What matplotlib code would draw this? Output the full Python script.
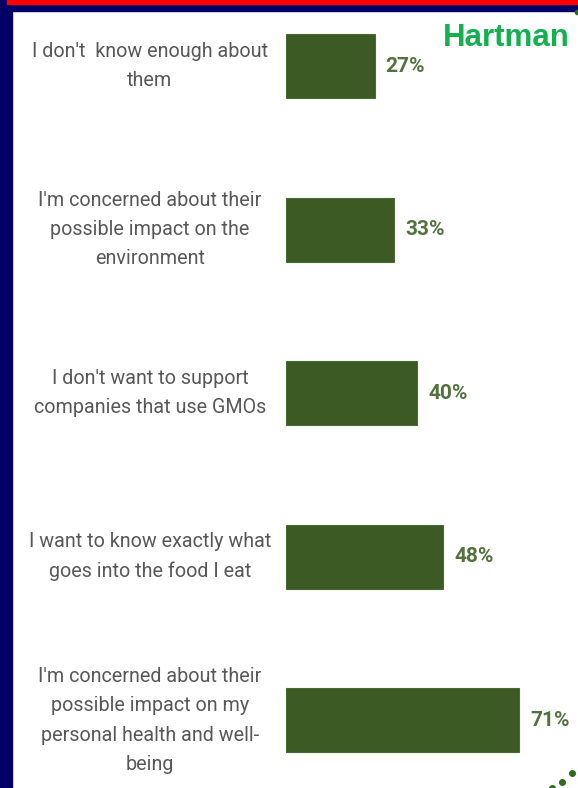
import matplotlib.pyplot as plt
from matplotlib.patches import Rectangle

# Reasons for avoiding GMOs, share of respondents
reasons = [
    "I don't  know enough about\nthem",
    "I'm concerned about their\npossible impact on the\nenvironment",
    "I don't want to support\ncompanies that use GMOs",
    "I want to know exactly what\ngoes into the food I eat",
    "I'm concerned about their\npossible impact on my\npersonal health and well-\nbeing",
]
shares = [27, 33, 40, 48, 71]

W, H = 578, 788
fig = plt.figure(figsize=(W / 100, H / 100), dpi=100)
fig.patch.set_facecolor("white")

# frame: navy left edge, red + navy bands on top
fig.patches.append(Rectangle((0, 0), 12 / W, 1, transform=fig.transFigure, color="#000066", zorder=0))
fig.patches.append(Rectangle((0, 1 - 11 / H), 1, 11 / H, transform=fig.transFigure, color="#000066", zorder=0))
fig.patches.append(Rectangle((7 / W, 1 - 4 / H), 1, 4 / H, transform=fig.transFigure, color="#ff0000", zorder=1))

px_per_pct = 3.28
ax = fig.add_axes([286 / W, 0, (W - 286) / W, 1 - 11 / H])
ax.set_xlim(0, (W - 286) / px_per_pct)
step = 163.6
ax.set_ylim((H - 66) / step, (11 - 66) / step)
ax.axis("off")

pos = list(range(len(shares)))
ax.barh(pos, shares, height=64 / step, color="#3b5a24", edgecolor="#4a6a35", linewidth=0.8)
ax.axvline(-0.6, color="#e6e6e6", linewidth=1)

for y, v, lab in zip(pos, shares, reasons):
    ax.text(v + 11 / px_per_pct, y, f"{v}%", va="center", ha="left",
            fontsize=15, fontweight="bold", color="#52733f", family="Roboto")
    ax.text(-136 / px_per_pct, y, lab, va="center", ha="center", multialignment="center",
            fontsize=14.2, color="#585858", linespacing=1.68, family="Roboto")

fig.text(570 / W, 1 - 38 / H, "Hartman", ha="right", va="center",
         fontsize=22.5, fontweight="bold", color="#14b050", family="Liberation Sans")

# dotted green arc in the corner
dots_x = [577, 572, 562, 552]
dots_y = [12, 773, 782, 788]
fig.add_artist(plt.Line2D([x / W for x in dots_x[1:]], [1 - y / H for y in dots_y[1:]],
                          transform=fig.transFigure, linestyle="none", marker="o",
                          markersize=4, color="#2e6b1e"))
fig.add_artist(plt.Line2D([dots_x[0] / W], [1 - dots_y[0] / H], transform=fig.transFigure,
                          linestyle="none", marker="o", markersize=3, color="#2e6b1e"))

fig.savefig("out.png", dpi=100)
